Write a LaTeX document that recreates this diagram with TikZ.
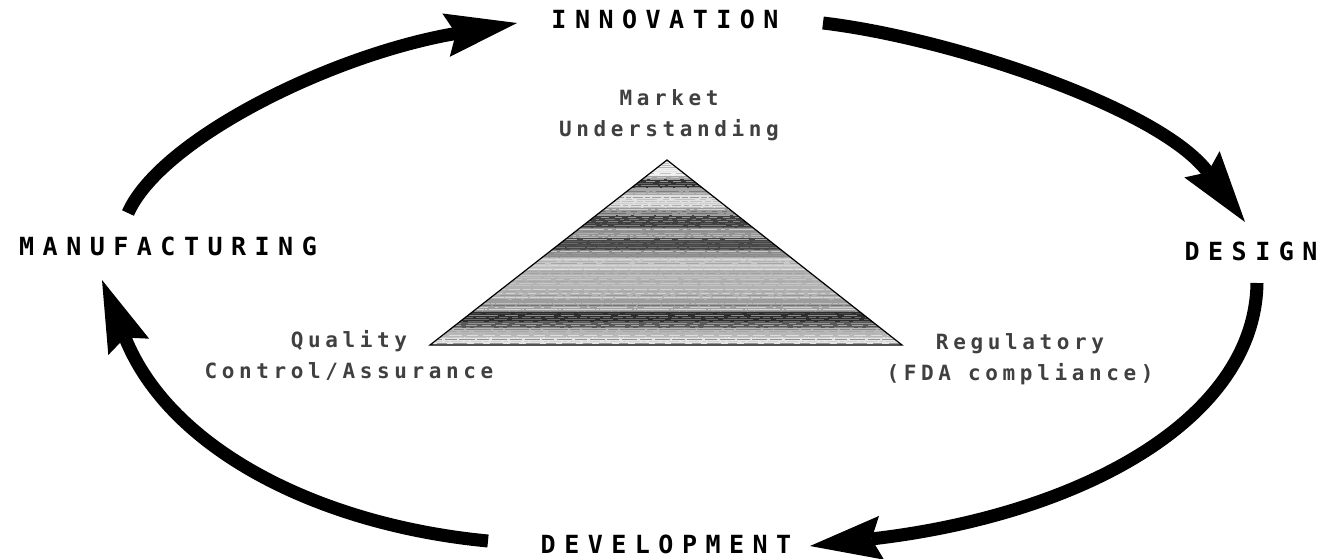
\documentclass[tikz,border=0pt]{standalone}
\usepackage{fontspec}
\usetikzlibrary{arrows.meta}
\newfontfamily\stagefont[LetterSpace=34]{DejaVu Sans Mono}
\newfontfamily\factorfont[LetterSpace=22]{DejaVu Sans Mono}
\begin{document}
\begin{tikzpicture}[x=0.5pt, y=-0.5pt,
  stagelabel/.style={inner sep=0pt, anchor=base, font=\stagefont\bfseries\fontsize{12.5}{15}\selectfont},
  factorlabel/.style={inner sep=0pt, align=center, text=black!75, font=\factorfont\bfseries\fontsize{10.5}{15.5}\selectfont},
  cyclearrow/.style={line width=6.5pt, line cap=butt, -{Stealth[length=36pt, width=22pt, inset=5pt, line width=0pt]}}]
\useasboundingbox (0,0) rectangle (1330,558);
\coordinate (T_0) at (667,160);
\coordinate (T_1) at (430,345);
\coordinate (T_2) at (902,345);
\begin{scope}
\clip (T_0) -- (T_1) -- (T_2) -- cycle;
\foreach \ya/\yb/\sh in {160/176/6, 176/179/35, 179/188/80, 188/195/35, 195/208/12, 208/215/40, 215/228/75, 228/238/42, 238/250/72, 250/258/45, 258/270/22, 270/300/30, 300/312/38, 312/322/82, 322/328/65, 328/337/28, 337/345/10}
  \fill[black!\sh] (420,\ya) rectangle (910,\yb);
\pgfmathsetseed{11}
\foreach \y in {161,163,...,345} {
  \pgfmathsetmacro\sh{int(rnd*70)}
  \pgfmathsetmacro\da{2+rnd*14}
  \pgfmathsetmacro\db{0.5+rnd*3}
  \pgfmathsetmacro\dc{1+rnd*6}
  \pgfmathsetmacro\ph{rnd*20}
  \draw[black!\sh, line width=0.5pt, opacity=0.55,
    dash pattern=on \da pt off \db pt on \dc pt off \db pt, dash phase=\ph pt] (420,\y) -- (910,\y);
}
\end{scope}
\draw[line width=0.6pt] (T_0) -- (T_1) -- (T_2) -- cycle;
\node[stagelabel] (S_0) at (665,28) {INNOVATION};
\node[stagelabel] (S_1) at (1251,260) {DESIGN};
\node[stagelabel] (S_2) at (666,553) {DEVELOPMENT};
\node[stagelabel] (S_3) at (168,255) {MANUFACTURING};
\node[factorlabel] (F_0) at (669,115) {Market\\Understanding};
\node[factorlabel] (F_1) at (349,355) {Quality\\Control/Assurance};
\node[factorlabel] (F_2) at (1020,359) {Regulatory\\(FDA compliance)};
\coordinate (A_0_s) at (128,213);
\coordinate (A_0_e) at (517,23);
\draw[cyclearrow] (A_0_s) .. controls (160,140) and (330,55) .. (A_0_e);
\coordinate (A_1_s) at (823,23);
\coordinate (A_1_e) at (1245,222);
\draw[cyclearrow] (A_1_s) .. controls (950,38) and (1160,108) .. (A_1_e);
\coordinate (A_2_s) at (1257,283);
\coordinate (A_2_e) at (810,546);
\draw[cyclearrow] (A_2_s) .. controls (1255,420) and (1080,515) .. (A_2_e);
\coordinate (A_3_s) at (488,541);
\coordinate (A_3_e) at (102,280);
\draw[cyclearrow] (A_3_s) .. controls (320,525) and (170,450) .. (A_3_e);
\end{tikzpicture}
\end{document}
